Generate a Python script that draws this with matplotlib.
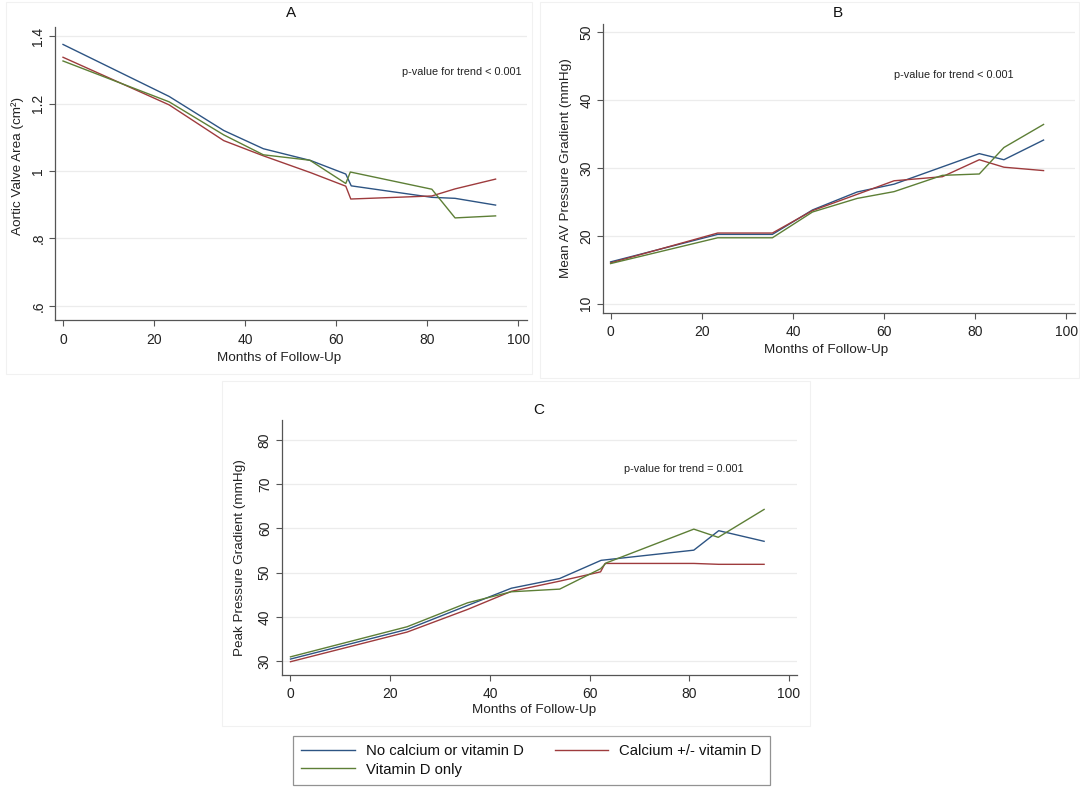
import matplotlib
matplotlib.use('Agg')
import matplotlib.pyplot as plt
from matplotlib.ticker import FuncFormatter
from matplotlib.patches import Rectangle

plt.rcParams['font.family'] = ['Liberation Sans', 'DejaVu Sans']

# ---------------- data ----------------
series_labels = ["No calcium or vitamin D", "Calcium +/- vitamin D", "Vitamin D only"]
series_colors = ["#2d5483", "#9e3b3d", "#5d7f36"]

# Panel A: Aortic valve area
a_x_blue = [0, 23.3, 35.3, 44.0, 54.4, 62.1, 63.3, 81.0, 86.1, 95.0]
a_y_blue = [1.375, 1.221, 1.120, 1.066, 1.031, 0.991, 0.956, 0.922, 0.919, 0.899]
a_x_red = [0, 23.3, 35.3, 44.0, 54.4, 62.1, 63.2, 81.0, 86.1, 95.0]
a_y_red = [1.337, 1.196, 1.090, 1.045, 0.995, 0.955, 0.917, 0.926, 0.947, 0.976]
a_x_green = [0, 23.3, 35.3, 44.0, 54.2, 62.1, 63.1, 81.0, 86.1, 95.0]
a_y_green = [1.326, 1.205, 1.107, 1.048, 1.032, 0.963, 0.997, 0.946, 0.861, 0.867]

# Panel B: Mean AV pressure gradient
b_x_blue = [0, 23.5, 35.5, 44.3, 54.1, 62.2, 80.9, 86.3, 95.0]
b_y_blue = [16.15, 20.2, 20.2, 23.8, 26.45, 27.6, 32.1, 31.2, 34.1]
b_x_red = [0, 23.5, 35.5, 44.3, 54.1, 62.2, 72.8, 80.9, 86.3, 95.0]
b_y_red = [16.0, 20.4, 20.4, 23.7, 26.1, 28.1, 28.7, 31.2, 30.1, 29.6]
b_x_green = [0, 23.5, 35.5, 44.3, 54.1, 62.2, 72.8, 80.9, 86.3, 95.0]
b_y_green = [15.9, 19.7, 19.7, 23.5, 25.5, 26.5, 28.9, 29.1, 33.0, 36.4]

# Panel C: Peak pressure gradient
c_x_blue = [0, 23.4, 35.5, 44.3, 54.0, 62.3, 80.9, 85.9, 95.0]
c_y_blue = [30.5, 37.2, 42.6, 46.5, 48.7, 52.8, 55.1, 59.5, 57.1]
c_x_red = [0, 23.4, 35.5, 44.3, 54.0, 62.2, 63.1, 80.9, 85.9, 95.0]
c_y_red = [29.9, 36.6, 41.7, 45.8, 48.1, 50.2, 52.1, 52.1, 51.9, 51.9]
c_x_green = [0, 23.4, 35.5, 44.3, 54.0, 62.2, 63.3, 80.9, 85.8, 95.0]
c_y_green = [31.0, 37.8, 43.2, 45.7, 46.3, 50.9, 52.2, 59.85, 58.0, 64.3]

x_ticks = [0, 20, 40, 60, 80, 100]
a_y_ticks = [0.6, 0.8, 1.0, 1.2, 1.4]
b_y_ticks = [10, 20, 30, 40, 50]
c_y_ticks = [30, 40, 50, 60, 70, 80]

titles = ["A", "B", "C"]
y_labels = ["Aortic Valve Area (cm²)", "Mean AV Pressure Gradient (mmHg)", "Peak Pressure Gradient (mmHg)"]
x_label = "Months of Follow-Up"
p_texts = ["p-value for trend < 0.001", "p-value for trend < 0.001", "p-value for trend = 0.001"]

# ---------------- figure ----------------
W, H = 1080, 789
fig = plt.figure(figsize=(W / 100, H / 100), dpi=100)
fig.patch.set_facecolor('white')


def fx(px):
    return px / W


def fy(py):
    return 1 - py / H


# faint panel borders
for (x0, y0, x1, y1) in [(6, 2, 532, 374), (540, 2, 1079, 378), (222, 381, 810, 726)]:
    fig.patches.append(Rectangle((fx(x0), fy(y1)), fx(x1) - fx(x0), fy(y0) - fy(y1),
                                 transform=fig.transFigure, fill=False,
                                 edgecolor='#f1f1f1', lw=0.8, zorder=0))

SPINE = '#555555'


def stata_fmt(v, pos):
    s = ('%g' % round(v, 4))
    if s.startswith('0.'):
        s = s[1:]
    return s


def make_axes(rect_px, xlim, ylim, yticks):
    left, top, right, bottom = rect_px
    ax = fig.add_axes([fx(left), fy(bottom), fx(right) - fx(left), fy(top) - fy(bottom)])
    ax.set_xlim(*xlim)
    ax.set_ylim(*ylim)
    ax.set_xticks(x_ticks)
    ax.set_yticks(yticks)
    ax.yaxis.set_major_formatter(FuncFormatter(stata_fmt))
    for s in ['top', 'right']:
        ax.spines[s].set_visible(False)
    for s in ['left', 'bottom']:
        ax.spines[s].set_color(SPINE)
        ax.spines[s].set_linewidth(0.9)
    ax.tick_params(axis='both', colors=SPINE, labelcolor='#222222', length=4,
                   width=0.8, labelsize=10)
    ax.tick_params(axis='x', pad=5)
    ax.tick_params(axis='y', pad=3)
    for lab in ax.get_yticklabels():
        lab.set_rotation(90)
        lab.set_va('center')
    ax.grid(axis='y', color='#ececec', lw=0.9)
    ax.set_axisbelow(True)
    return ax


# Panel A
axA = make_axes((55, 27, 527, 320), (-1.76, 101.9), (0.5585, 1.4267), a_y_ticks)
axA.plot(a_x_blue, a_y_blue, color=series_colors[0], lw=1.0)
axA.plot(a_x_red, a_y_red, color=series_colors[1], lw=1.0)
axA.plot(a_x_green, a_y_green, color=series_colors[2], lw=1.0)

# Panel B
axB = make_axes((603, 24, 1075, 312.5), (-1.67, 101.9), (8.69, 51.2), b_y_ticks)
axB.plot(b_x_blue, b_y_blue, color=series_colors[0], lw=1.0)
axB.plot(b_x_red, b_y_red, color=series_colors[1], lw=1.0)
axB.plot(b_x_green, b_y_green, color=series_colors[2], lw=1.0)

# Panel C
axC = make_axes((281.5, 420, 797, 675), (-1.8, 101.6), (26.9, 84.5), c_y_ticks)
h_blue, = axC.plot(c_x_blue, c_y_blue, color=series_colors[0], lw=1.0)
h_red, = axC.plot(c_x_red, c_y_red, color=series_colors[1], lw=1.0)
h_green, = axC.plot(c_x_green, c_y_green, color=series_colors[2], lw=1.0)

# titles
fig.text(fx(291), fy(13), titles[0], ha='center', va='center', fontsize=11, color='#111111')
fig.text(fx(838), fy(13), titles[1], ha='center', va='center', fontsize=11, color='#111111')
fig.text(fx(539), fy(410), titles[2], ha='center', va='center', fontsize=11, color='#111111')

# x labels
fig.text(fx(279), fy(358), x_label, ha='center', va='center', fontsize=9.7, color='#222222')
fig.text(fx(826), fy(350), x_label, ha='center', va='center', fontsize=9.7, color='#222222')
fig.text(fx(534), fy(710), x_label, ha='center', va='center', fontsize=9.7, color='#222222')

# y labels
fig.text(fx(17.5), fy(166), y_labels[0], ha='center', va='center', rotation=90, fontsize=9.7, color='#222222')
fig.text(fx(566), fy(168), y_labels[1], ha='center', va='center', rotation=90, fontsize=9.7, color='#222222')
fig.text(fx(240), fy(558), y_labels[2], ha='center', va='center', rotation=90, fontsize=9.7, color='#222222')

# p-value annotations
fig.text(fx(402), fy(72), p_texts[0], ha='left', va='center', fontsize=7.8, color='#222222')
fig.text(fx(894), fy(75), p_texts[1], ha='left', va='center', fontsize=7.8, color='#222222')
fig.text(fx(624), fy(469), p_texts[2], ha='left', va='center', fontsize=7.8, color='#222222')

# legend (column-major fill: blue, green | red  -> rows: blue red / green)
leg = fig.legend([h_blue, h_green, h_red],
                 [series_labels[0], series_labels[2], series_labels[1]],
                 ncol=2, loc='upper left',
                 bbox_to_anchor=(fx(293), fy(736), fx(770) - fx(293), 0.0001),
                 mode='expand', frameon=True, fancybox=False, fontsize=10.7,
                 handlelength=3.6, handletextpad=0.74, borderpad=0.55,
                 labelspacing=0.3, borderaxespad=0.0, columnspacing=1.9)
leg.get_frame().set_edgecolor('#777777')
leg.get_frame().set_linewidth(0.9)
for t in leg.get_texts():
    t.set_color('#111111')

fig.savefig('out.png', dpi=100)
